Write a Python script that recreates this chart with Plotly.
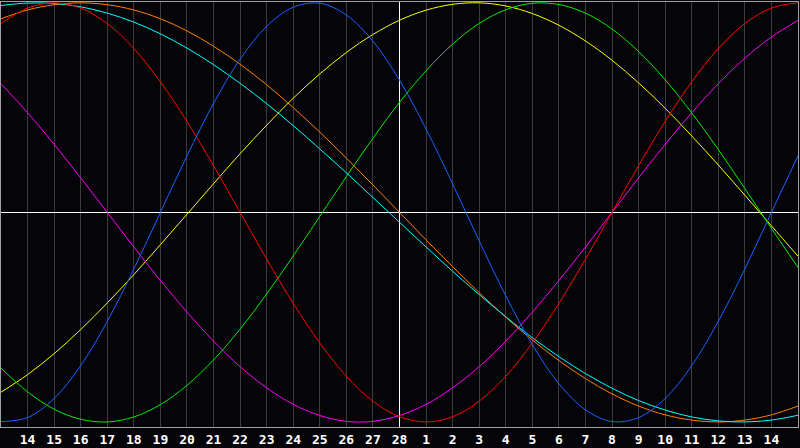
# Biorhythm chart - 7 cycles around the centre day (28)
import plotly.graph_objects as go

# Day offsets from the centre day, one value per day
days = list(range(-15, 16))

# Tick labels under the grid lines
tick_days = list(range(-14, 15))
tick_labels = ['14', '15', '16', '17', '18', '19', '20', '21', '22', '23', '24', '25', '26', '27', '28',
               '1', '2', '3', '4', '5', '6', '7', '8', '9', '10', '11', '12', '13', '14']

# Cycle values (-1 .. 1)
physical = [-0.998, -0.979, -0.888, -0.731, -0.520, -0.270, 0.000, 0.270, 0.520, 0.731, 0.888, 0.979, 0.998, 0.942,
            0.817, 0.631, 0.398, 0.136, -0.136, -0.398, -0.631, -0.817, -0.942, -0.998, -0.979, -0.888, -0.731,
            -0.520, -0.270, 0.000, 0.270]
emotional = [0.901, 0.975, 1.000, 0.975, 0.901, 0.782, 0.623, 0.434, 0.223, 0.000, -0.223, -0.434, -0.623, -0.782,
             -0.901, -0.975, -1.000, -0.975, -0.901, -0.782, -0.623, -0.434, -0.223, 0.000, 0.223, 0.434, 0.623,
             0.782, 0.901, 0.975, 1.000]
intellectual = [-0.743, -0.856, -0.939, -0.987, -1.000, -0.976, -0.917, -0.825, -0.704, -0.557, -0.389, -0.208,
                -0.019, 0.171, 0.354, 0.525, 0.676, 0.803, 0.902, 0.967, 0.998, 0.992, 0.951, 0.875, 0.768, 0.633,
                0.475, 0.300, 0.114, -0.076, -0.263]
intuitive = [0.614, 0.476, 0.325, 0.165, 0.000, -0.165, -0.325, -0.476, -0.614, -0.736, -0.837, -0.916, -0.969,
             -0.997, -0.997, -0.969, -0.916, -0.837, -0.736, -0.614, -0.476, -0.325, -0.165, 0.000, 0.165, 0.325,
             0.476, 0.614, 0.736, 0.837, 0.916]
aesthetic = [-0.858, -0.774, -0.674, -0.559, -0.432, -0.297, -0.154, -0.009, 0.137, 0.280, 0.416, 0.545, 0.661,
             0.763, 0.849, 0.917, 0.965, 0.993, 1.000, 0.985, 0.949, 0.893, 0.818, 0.726, 0.618, 0.497, 0.365,
             0.226, 0.082, -0.064, -0.209]
awareness = [0.924, 0.966, 0.991, 1.000, 0.991, 0.966, 0.924, 0.866, 0.793, 0.707, 0.609, 0.500, 0.383, 0.259,
             0.131, 0.000, -0.131, -0.259, -0.383, -0.500, -0.609, -0.707, -0.793, -0.866, -0.924, -0.966, -0.991,
             -1.000, -0.991, -0.966, -0.924]
spiritual = [0.987, 0.999, 0.997, 0.981, 0.951, 0.908, 0.852, 0.784, 0.705, 0.616, 0.519, 0.414, 0.303, 0.189,
             0.071, -0.047, -0.165, -0.281, -0.392, -0.498, -0.598, -0.688, -0.769, -0.839, -0.898, -0.943, -0.976,
             -0.995, -1.000, -0.991, -0.968]

series = [
    (awareness, '#ff8000'),
    (spiritual, '#00ffff'),
    (aesthetic, '#ffff00'),
    (intuitive, '#ff00ff'),
    (intellectual, '#00ee00'),
    (emotional, '#ff0000'),
    (physical, '#1464ff'),
]

fig = go.Figure()
for vals, col in series:
    fig.add_trace(go.Scatter(x=days, y=vals, mode='lines', line=dict(color=col, width=1, shape='spline'),
                             hoverinfo='skip'))

fig.update_layout(
    width=800, height=448,
    margin=dict(l=1, r=1, t=1, b=20),
    paper_bgcolor='#050408', plot_bgcolor='#050408',
    showlegend=False,
)
fig.update_xaxes(range=[-15, 15], tickvals=tick_days, ticktext=tick_labels, ticks='',
                 tickfont=dict(family='DejaVu Sans Mono', size=13, color='white', weight='bold'),
                 showgrid=True, gridcolor='#3c3c3c', gridwidth=1,
                 zeroline=True, zerolinecolor='white', zerolinewidth=1,
                 showline=True, mirror=True, linecolor='#a0a0a0', linewidth=1)
fig.update_yaxes(range=[-1.024, 1.004], showticklabels=False, showgrid=False,
                 zeroline=True, zerolinecolor='white', zerolinewidth=1,
                 showline=True, mirror=True, linecolor='#a0a0a0', linewidth=1)

# page has a default body margin, drop it so the chart sits at the corner
fig.write_html("out.html", config={'displayModeBar': False},
               post_script="document.body.style.margin='0px';")
